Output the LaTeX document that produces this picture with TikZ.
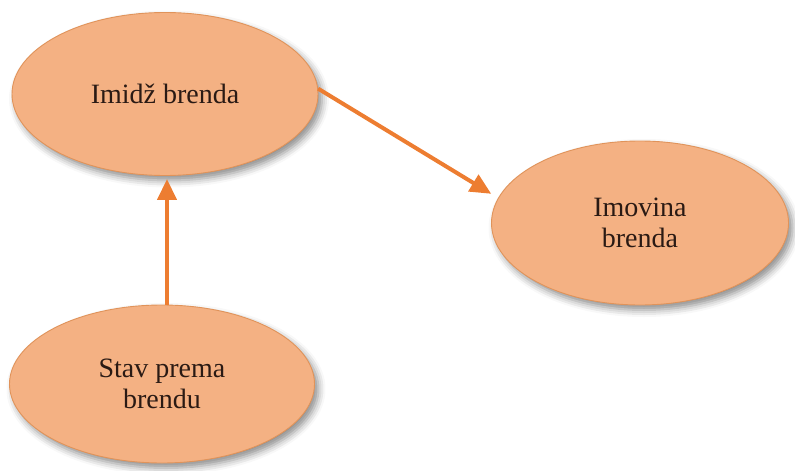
\documentclass[tikz,border=0pt]{standalone}
\usepackage{fontspec}
\setmainfont{Liberation Serif}
\newfontfamily\labelfont{Liberation Serif}
\usetikzlibrary{shapes.geometric,arrows.meta,shadows.blur}

\definecolor{bubblefill}{HTML}{F4B183}
\definecolor{bubbleline}{HTML}{E0935A}
\definecolor{linkorange}{HTML}{ED7D31}
\definecolor{labeltext}{HTML}{2A1A14}

\tikzset{
  bubble/.style={ellipse, draw=bubbleline, line width=0.9pt, fill=bubblefill,
    inner sep=0pt, align=center, text=labeltext,
    font=\labelfont\fontsize{28}{31}\selectfont,
    blur shadow={shadow xshift=4pt, shadow yshift=-5pt,
      shadow blur radius=7pt, shadow opacity=45}},
  link/.style={draw=linkorange, line width=4pt,
    -{Triangle[length=21pt, width=19pt]}}
}

\begin{document}
\begin{tikzpicture}[x=1pt, y=1pt]
  \useasboundingbox (0,0) rectangle (795,-471);

  \node[bubble, minimum width=306pt, minimum height=163pt] (image) at (165,-94) {Imidž brenda};
  \node[bubble, minimum width=297pt, minimum height=164pt] (equity) at (640,-223) {Imovina\\brenda};
  \node[bubble, minimum width=305pt, minimum height=158pt] (attitude) at (162,-384) {Stav prema\\brendu};

  \coordinate (axis) at (167,0);
  \draw[link, shorten >=3pt] (attitude.north -| axis) -- (image.south -| axis);
  \draw[link, shorten >=8pt] (image.2) -- (equity.170);
\end{tikzpicture}
\end{document}
